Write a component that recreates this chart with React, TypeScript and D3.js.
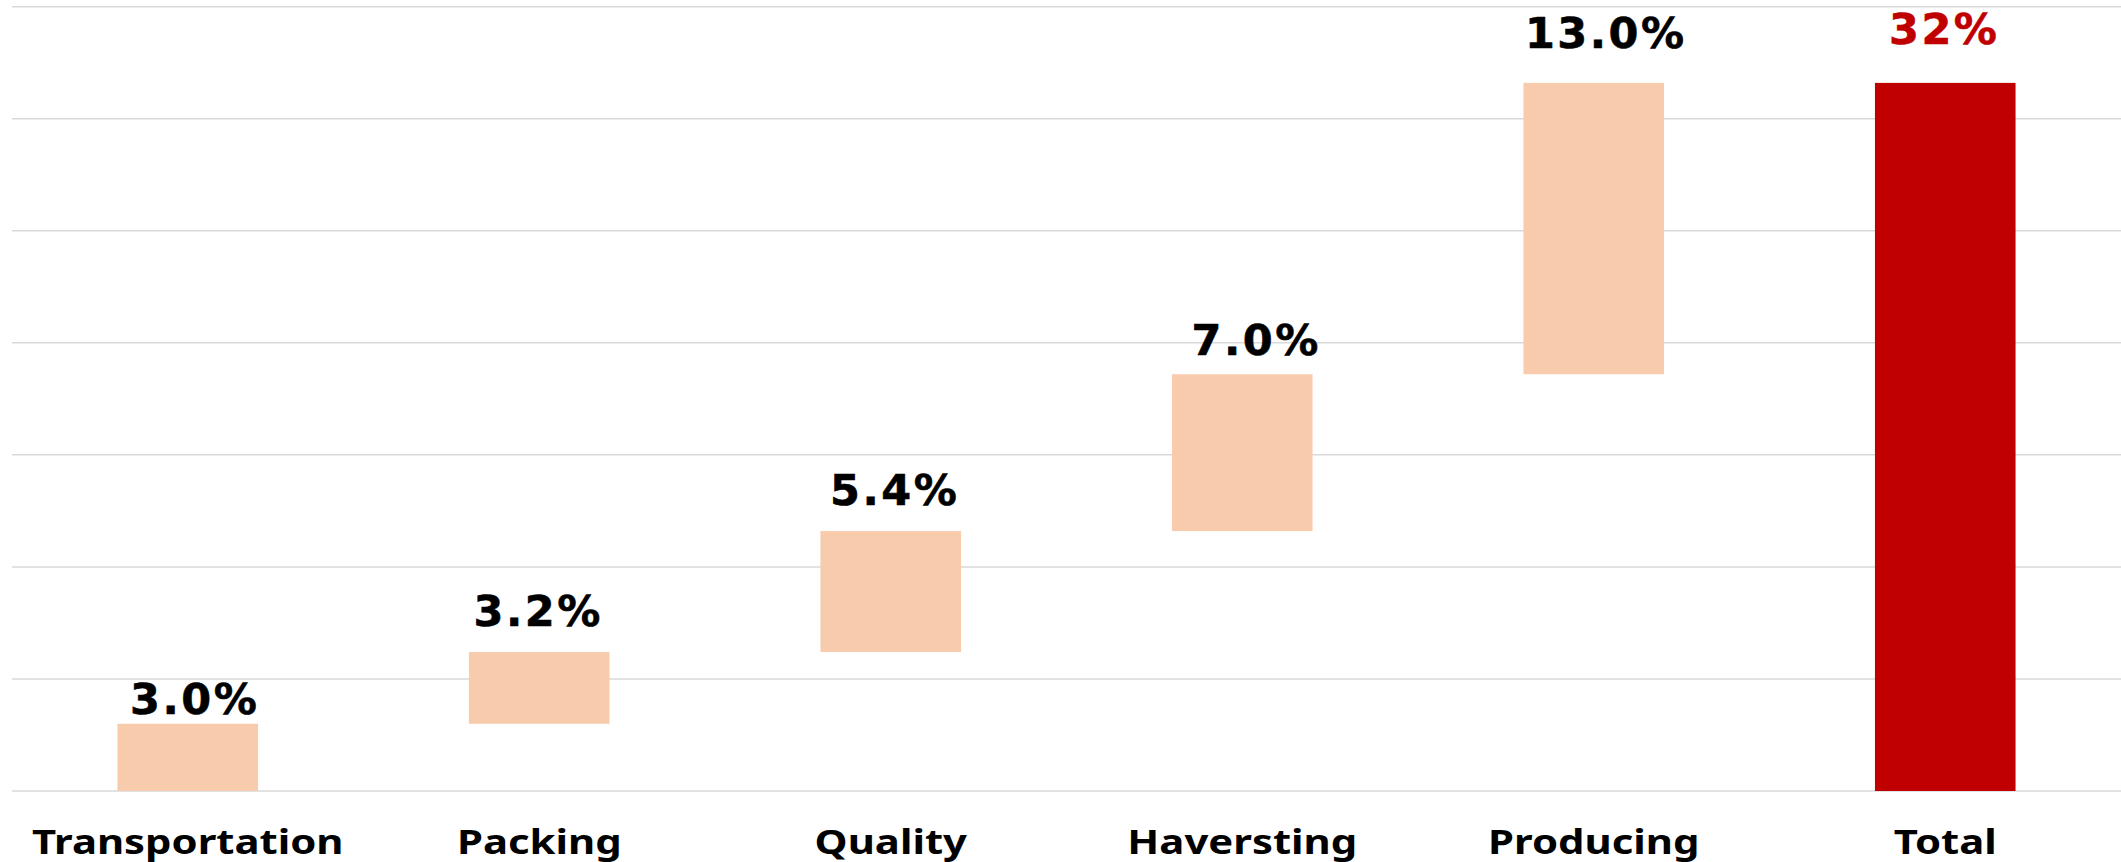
import React from "react";
import * as d3 from "d3";

const categories = ["Transportation", "Packing", "Quality", "Haversting", "Producing"];
const totalLabel = "Total";
const stepValues = [3.0, 3.2, 5.4, 7.0, 13.0];
const yTicks = [0, 5, 10, 15, 20, 25, 30, 35];

// layout tweaks for the data labels (pixels, manual placement as in the reference)
const labelDx = [7, -1, 4, 14, 12, -1];
const labelDy = [10, 26, 26, 19, 35, 39];

const W = 2121;
const H = 862;

export default function App() {
  const allCats = [...categories, totalLabel];
  const x = d3.scaleBand<string>().domain(allCats).range([12, 2121]).paddingInner(0.6).paddingOuter(0.3);
  const y = d3.scaleLinear().domain([0, 35]).range([791, 6.7]);

  const cum = d3.cumsum(stepValues);
  const total = d3.sum(stepValues);
  const bars = stepValues.map((v, i) => ({
    cat: categories[i],
    start: i === 0 ? 0 : cum[i - 1],
    end: cum[i],
    label: d3.format(".1f")(v) + "%",
    total: false,
  }));
  bars.push({ cat: totalLabel, start: 0, end: total, label: d3.format(".0f")(total) + "%", total: true });

  return (
    <svg width={W} height={H} style={{ position: "absolute", left: 0, top: 0, background: "#fff" }}>
      <g>
        {yTicks.map((t) => (
          <line key={t} x1={12} x2={2121} y1={y(t)} y2={y(t)} stroke="#d9d9d9" strokeWidth={1.5} />
        ))}
      </g>
      <g>
        {bars.map((b) => (
          <rect
            key={b.cat}
            x={x(b.cat)}
            y={y(b.end)}
            width={x.bandwidth()}
            height={y(b.start) - y(b.end)}
            fill={b.total ? "#C00000" : "#F8CBAD"}
          />
        ))}
      </g>
      <g fontFamily="DejaVu Sans" fontWeight="bold" fontSize={43} textAnchor="middle">
        {bars.map((b, i) => (
          <text
            key={b.cat}
            x={(x(b.cat) as number) + x.bandwidth() / 2 + labelDx[i]}
            y={y(b.end) - labelDy[i]}
            fill={b.total ? "#C00000" : "#000"}
            letterSpacing={2.5}
            stroke={b.total ? "#C00000" : "#000"}
            strokeWidth={0.6}
          >
            {b.label}
          </text>
        ))}
      </g>
      <g fontFamily="Noto Sans" fontWeight="bold" fontSize={34} textAnchor="middle" fill="#000">
        {allCats.map((c) => (
          <text
            key={c}
            transform={`translate(${(x(c) as number) + x.bandwidth() / 2},854) scale(1.23,1)`}
            x={0}
            y={0}
          >
            {c}
          </text>
        ))}
      </g>
    </svg>
  );
}
